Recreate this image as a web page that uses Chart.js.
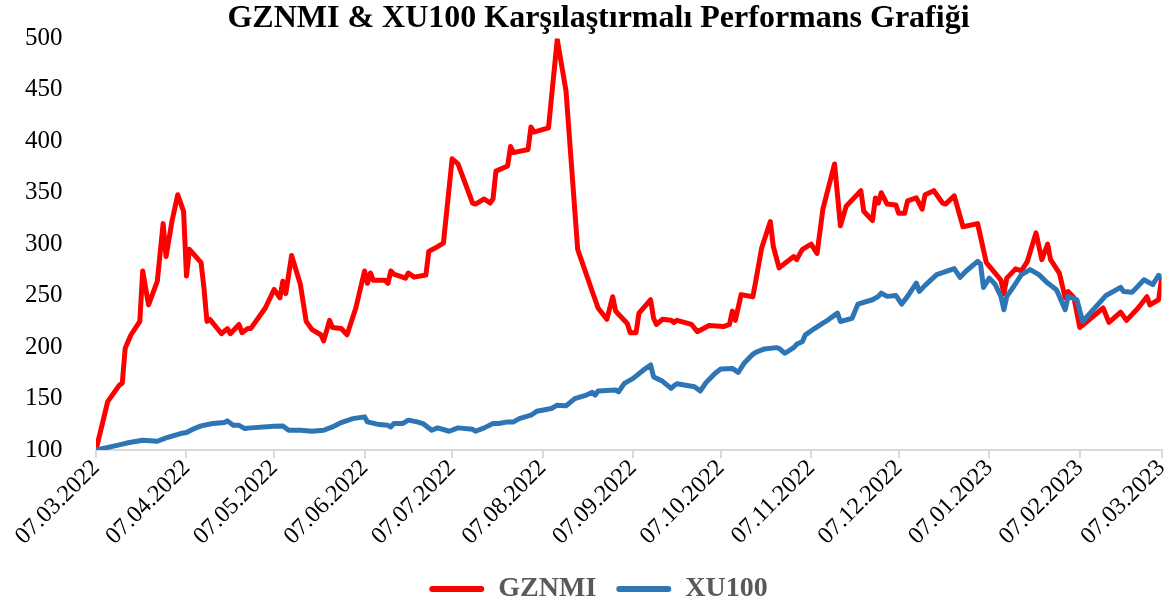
<!DOCTYPE html>
<html>
<head>
<meta charset="utf-8">
<script src="https://cdn.jsdelivr.net/npm/chart.js@4"></script>
<style>
html,body{margin:0;padding:0;background:#fff;}
#wrap{width:1172px;height:608px;}
</style>
</head>
<body>
<div id="wrap"><canvas id="c" width="1172" height="608"></canvas></div>
<script>
const chartTitle = "GZNMI & XU100 Karşılaştırmalı Performans Grafiği";
const seriesNames = ["GZNMI", "XU100"];
const tickLabels = ["07.03.2022","07.04.2022","07.05.2022","07.06.2022","07.07.2022","07.08.2022","07.09.2022","07.10.2022","07.11.2022","07.12.2022","07.01.2023","07.02.2023","07.03.2023"];
const yTicks = [100,150,200,250,300,350,400,450,500];

const gznmiDates = ["07.03.2022","11.03.2022","15.03.2022","16.03.2022","17.03.2022","19.03.2022","22.03.2022","23.03.2022","25.03.2022","28.03.2022","30.03.2022","31.03.2022","02.04.2022","04.04.2022","06.04.2022","07.04.2022","08.04.2022","12.04.2022","13.04.2022","14.04.2022","15.04.2022","19.04.2022","21.04.2022","22.04.2022","25.04.2022","26.04.2022","28.04.2022","29.04.2022","04.05.2022","07.05.2022","09.05.2022","10.05.2022","11.05.2022","13.05.2022","16.05.2022","18.05.2022","20.05.2022","23.05.2022","24.05.2022","26.05.2022","27.05.2022","30.05.2022","01.06.2022","04.06.2022","07.06.2022","08.06.2022","09.06.2022","10.06.2022","14.06.2022","15.06.2022","16.06.2022","17.06.2022","21.06.2022","22.06.2022","24.06.2022","28.06.2022","29.06.2022","01.07.2022","04.07.2022","07.07.2022","09.07.2022","14.07.2022","15.07.2022","18.07.2022","20.07.2022","21.07.2022","22.07.2022","26.07.2022","27.07.2022","28.07.2022","02.08.2022","03.08.2022","04.08.2022","09.08.2022","12.08.2022","15.08.2022","19.08.2022","24.08.2022","26.08.2022","29.08.2022","31.08.2022","01.09.2022","02.09.2022","05.09.2022","06.09.2022","08.09.2022","09.09.2022","13.09.2022","14.09.2022","15.09.2022","17.09.2022","20.09.2022","21.09.2022","22.09.2022","27.09.2022","29.09.2022","03.10.2022","08.10.2022","10.10.2022","11.10.2022","12.10.2022","14.10.2022","18.10.2022","19.10.2022","21.10.2022","24.10.2022","25.10.2022","27.10.2022","01.11.2022","02.11.2022","04.11.2022","07.11.2022","09.11.2022","11.11.2022","15.11.2022","17.11.2022","19.11.2022","24.11.2022","25.11.2022","28.11.2022","29.11.2022","30.11.2022","01.12.2022","03.12.2022","06.12.2022","07.12.2022","09.12.2022","10.12.2022","13.12.2022","15.12.2022","16.12.2022","19.12.2022","22.12.2022","23.12.2022","26.12.2022","29.12.2022","03.01.2023","06.01.2023","09.01.2023","11.01.2023","12.01.2023","13.01.2023","16.01.2023","18.01.2023","20.01.2023","23.01.2023","25.01.2023","27.01.2023","28.01.2023","31.01.2023","02.02.2023","03.02.2023","05.02.2023","07.02.2023","15.02.2023","17.02.2023","21.02.2023","23.02.2023","27.02.2023","02.03.2023","03.03.2023","06.03.2023","07.03.2023"];
const gznmiValues = [100,147,163,165,199,212,225,274,241,264,320,288,322,348,332,269,295,282,257,225,227,213,218,213,222,214,218,218,238,256,248,264,252,289,261,225,217,212,206,226,219,218,212,238,274,262,272,265,265,262,274,271,267,272,268,270,293,296,301,383,378,340,339,344,340,344,371,376,395,389,392,414,409,413,499,449,295,254,238,227,249,235,232,223,214,214,233,246,228,222,227,226,224,226,222,215,221,220,222,235,226,251,249,264,296,322,298,277,288,285,295,300,291,334,378,318,337,352,332,323,345,340,350,339,338,330,330,342,345,334,348,352,340,339,347,317,320,282,272,265,252,267,276,274,283,311,285,300,285,272,248,254,248,219,238,224,234,226,238,249,241,246,266];

const xu100Dates = ["07.03.2022","15.03.2022","18.03.2022","23.03.2022","28.03.2022","31.03.2022","05.04.2022","07.04.2022","09.04.2022","12.04.2022","16.04.2022","20.04.2022","21.04.2022","23.04.2022","25.04.2022","27.04.2022","29.04.2022","07.05.2022","10.05.2022","12.05.2022","16.05.2022","20.05.2022","24.05.2022","27.05.2022","30.05.2022","03.06.2022","07.06.2022","08.06.2022","12.06.2022","15.06.2022","16.06.2022","17.06.2022","20.06.2022","22.06.2022","25.06.2022","27.06.2022","30.06.2022","02.07.2022","06.07.2022","09.07.2022","14.07.2022","15.07.2022","18.07.2022","21.07.2022","23.07.2022","26.07.2022","28.07.2022","30.07.2022","03.08.2022","05.08.2022","10.08.2022","12.08.2022","15.08.2022","18.08.2022","22.08.2022","24.08.2022","25.08.2022","26.08.2022","01.09.2022","02.09.2022","04.09.2022","07.09.2022","11.09.2022","13.09.2022","14.09.2022","15.09.2022","17.09.2022","20.09.2022","21.09.2022","22.09.2022","26.09.2022","28.09.2022","30.09.2022","02.10.2022","05.10.2022","07.10.2022","11.10.2022","13.10.2022","15.10.2022","18.10.2022","19.10.2022","22.10.2022","26.10.2022","27.10.2022","29.10.2022","01.11.2022","02.11.2022","04.11.2022","05.11.2022","08.11.2022","11.11.2022","12.11.2022","16.11.2022","17.11.2022","21.11.2022","23.11.2022","28.11.2022","30.11.2022","01.12.2022","03.12.2022","06.12.2022","08.12.2022","10.12.2022","13.12.2022","14.12.2022","16.12.2022","20.12.2022","26.12.2022","28.12.2022","30.12.2022","03.01.2023","04.01.2023","05.01.2023","07.01.2023","09.01.2023","11.01.2023","12.01.2023","13.01.2023","15.01.2023","18.01.2023","21.01.2023","24.01.2023","27.01.2023","30.01.2023","31.01.2023","02.02.2023","03.02.2023","06.02.2023","08.02.2023","16.02.2023","21.02.2023","22.02.2023","25.02.2023","01.03.2023","04.03.2023","06.03.2023","07.03.2023"];
const xu100Values = [100,105,107,109.5,108.5,111.7,116,117,120,123.4,125.7,126.7,128.3,124,124,120.8,121.5,123,123.4,119.2,119.2,118.2,119.2,122.4,126.7,130.5,132.2,127.3,124.7,124,122.4,125.7,125.7,129,127.3,125.7,119.2,121.5,118.2,121.5,120.2,118.2,121.5,125.7,125.7,127.3,127.3,130.5,133.8,137.7,140.3,143.6,142.9,150,153.4,156,153.4,157.3,158.3,156.6,164.7,169.6,178.7,182.6,171.2,169.6,167,159.8,162.4,164.4,162.4,161.5,157.3,165.7,174.4,178.7,179.3,175.4,184.2,193,194.9,198.2,199.5,198.8,194,199.5,202.7,205.4,211.9,217.8,223.2,224.9,233,224.9,228,241.8,246,249.3,252.5,249.3,250.2,241.8,249.3,262.2,254.1,260,270.4,276.3,267.8,273.7,283.4,280.8,258,267,261,249.3,236.3,249.3,257.4,270.4,275.3,270.4,262.2,255.8,249.3,236.3,249.3,246,224.9,250.2,258,254,253.4,265.5,260.7,269.8,268];

const serif = "'Liberation Serif','Times New Roman',serif";
function toDay(s){
  const p = s.split('.').map(Number);
  const o = tickLabels[0].split('.').map(Number);
  return Math.round((Date.UTC(p[2],p[1]-1,p[0]) - Date.UTC(o[2],o[1]-1,o[0])) / 86400000);
}
function toPoints(dates, vals){ return dates.map((d,i)=>({x: toDay(d), y: vals[i]})); }
const tickDays = tickLabels.map(toDay);

new Chart(document.getElementById('c'), {
  type: 'line',
  data: {
    datasets: [
      {label: seriesNames[0], data: toPoints(gznmiDates, gznmiValues), borderColor:'#FF0000', backgroundColor:'#FF0000', borderWidth:5, pointRadius:0, tension:0, order:1, borderJoinStyle:'round', borderCapStyle:'round'},
      {label: seriesNames[1], data: toPoints(xu100Dates, xu100Values), borderColor:'#2E75B6', backgroundColor:'#2E75B6', borderWidth:5, pointRadius:0, tension:0, order:0, borderJoinStyle:'round', borderCapStyle:'round'}
    ]
  },
  options: {
    responsive:false, animation:false, devicePixelRatio:1,
    events: [],
    layout:{padding:{left:25,right:0,top:0,bottom:-5}},
    scales:{
      x:{
        type:'linear', min: tickDays[0], max: tickDays[tickDays.length-1],
        afterBuildTicks: s => { s.ticks = tickDays.map(v => ({value:v})); },
        ticks:{autoSkip:false, minRotation:45, maxRotation:45, color:'#000', padding:2, font:{family:serif, size:24, lineHeight:0.5},
          callback:(v,i) => tickLabels[i]},
        grid:{display:true, drawOnChartArea:false, drawTicks:true, tickLength:8, color:'#D9D9D9', lineWidth:2},
        border:{display:true, color:'#D9D9D9', width:2},
        afterFit: s => { s.height = 105; }
      },
      y:{
        min: yTicks[0], max: yTicks[yTicks.length-1],
        afterBuildTicks: s => { s.ticks = yTicks.map(v => ({value:v})); },
        ticks:{color:'#000', padding:4, crossAlign:'far', font:{family:serif, size:25}},
        grid:{display:false},
        border:{display:false},
        afterFit: s => { s.width = 71; }
      }
    },
    plugins:{
      title:{display:true, text:chartTitle, color:'#000', font:{family:serif, size:32, weight:'bold'}, padding:{top:0,bottom:0}},
      legend:{position:'bottom',
        labels:{boxWidth:55, boxHeight:6, color:'#595959', padding:20, useBorderRadius:true, borderRadius:3,
          font:{family:serif, size:28, weight:'bold'},
          sort:(a,b)=>a.datasetIndex-b.datasetIndex,
          generateLabels: chart => Chart.defaults.plugins.legend.labels.generateLabels(chart).map(it => Object.assign(it, {lineWidth:0, fillStyle:it.strokeStyle}))
        }
      },
      tooltip:{enabled:false}
    }
  }
});
</script>
</body>
</html>
